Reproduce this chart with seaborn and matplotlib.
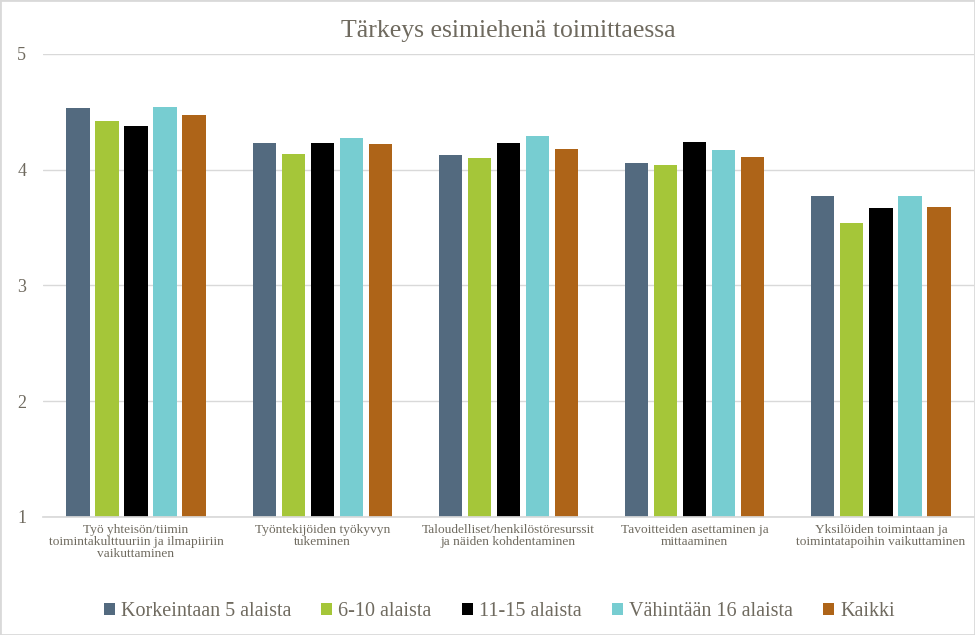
import pandas as pd
import matplotlib.pyplot as plt
import seaborn as sns

sns.set_theme(style='white')
plt.rcParams['font.family'] = ['Liberation Serif', 'DejaVu Serif']

# Data
categories = [
    'Työ yhteisön/tiimin\ntoimintakulttuuriin ja ilmapiiriin\nvaikuttaminen',
    'Työntekijöiden työkyvyn\ntukeminen',
    'Taloudelliset/henkilöstöresurssit\nja näiden kohdentaminen',
    'Tavoitteiden asettaminen ja\nmittaaminen',
    'Yksilöiden toimintaan ja\ntoimintatapoihin vaikuttaminen',
]
groups = ['Korkeintaan 5 alaista', '6-10 alaista', '11-15 alaista',
          'Vähintään 16 alaista', 'Kaikki']
korkeintaan5 = [4.53, 4.23, 4.13, 4.06, 3.77]
alaista6_10 = [4.42, 4.14, 4.10, 4.04, 3.54]
alaista11_15 = [4.38, 4.23, 4.23, 4.24, 3.67]
vahintaan16 = [4.54, 4.27, 4.29, 4.17, 3.77]
kaikki = [4.47, 4.22, 4.18, 4.11, 3.68]

series = [korkeintaan5, alaista6_10, alaista11_15, vahintaan16, kaikki]
df = pd.DataFrame({
    'kategoria': [c for _ in groups for c in categories],
    'ryhma': [g for g in groups for _ in categories],
    'arvo': [v for s in series for v in s],
})

palette = ['#536A7F', '#A5C639', '#000000', '#77CDD1', '#AE6418']
text_col = '#6f6a5f'

fig, ax = plt.subplots(figsize=(9.75, 6.35), dpi=100)
fig.subplots_adjust(left=0.044, right=0.999, top=0.915, bottom=0.186)

sns.barplot(data=df, x='kategoria', y='arvo', hue='ryhma', palette=palette,
            saturation=1, width=0.78, gap=0.2, ax=ax, legend=True)

# bars start at 1 (axis minimum)
for p in ax.patches:
    h = p.get_height()
    p.set_y(1)
    p.set_height(h - 1)
    p.set_linewidth(0)

ax.set_ylim(1, 5)
ax.set_yticks([1, 2, 3, 4, 5])
ax.yaxis.grid(True, color='#d9d9d9', linewidth=1)
ax.set_axisbelow(True)
for s in ['top', 'right', 'left']:
    ax.spines[s].set_visible(False)
ax.spines['bottom'].set_color('#d9d9d9')
ax.set_xlabel('')
ax.set_ylabel('')
ax.tick_params(axis='y', labelsize=13, colors=text_col, length=0, pad=12)
ax.tick_params(axis='x', labelsize=9.6, colors=text_col, length=0, pad=5)
for lbl in ax.get_xticklabels():
    lbl.set_linespacing(1.0)

ax.set_title('Tärkeys esimiehenä toimittaessa', fontsize=18.5, color=text_col,
             pad=12, family='Liberation Serif')

handles, labels = ax.get_legend_handles_labels()
leg = ax.legend(handles, labels, loc='upper center', bbox_to_anchor=(0.49, -0.145),
                ncol=5, frameon=False, fontsize=14.5,
                handlelength=0.55, handleheight=0.55, handletextpad=0.3,
                columnspacing=1.5)
for t in leg.get_texts():
    t.set_family('Liberation Serif')
    t.set_color(text_col)

fig.patches.append(plt.Rectangle((0, 0), 1, 1, transform=fig.transFigure,
                                 fill=False, edgecolor='#d9d9d9', linewidth=2))

plt.savefig('out.png', dpi=100, facecolor='white')
